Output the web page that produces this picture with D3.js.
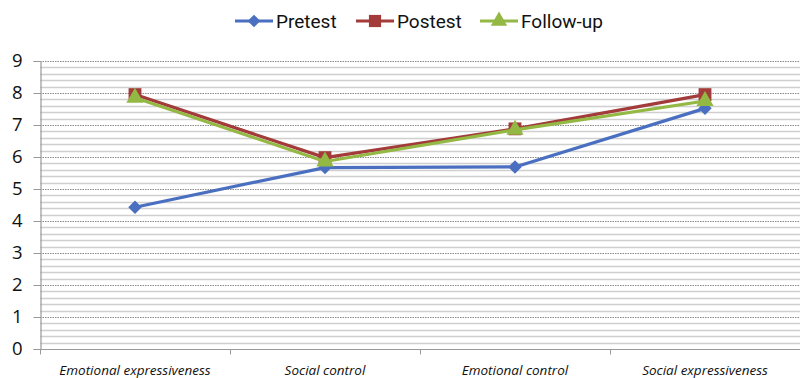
<!DOCTYPE html>
<html>
<head>
<meta charset="utf-8">
<script src="https://cdn.jsdelivr.net/npm/d3@7"></script>
<style>
  html, body { margin: 0; padding: 0; background: #fff; }
  svg { display: block; }
</style>
</head>
<body>
<svg id="chart" width="800" height="378"></svg>
<script>
// Scale scores per subscale at each assessment point
const categories = ["Emotional expressiveness", "Social control", "Emotional control", "Social expressiveness"];
const pretest  = [4.43, 5.67, 5.69, 7.52];
const postest  = [7.95, 5.98, 6.88, 7.95];
const followup = [7.85, 5.86, 6.85, 7.75];
const yTicks   = [0, 1, 2, 3, 4, 5, 6, 7, 8, 9];
const seriesNames = ["Pretest", "Postest", "Follow-up"];

const series = [
  { name: seriesNames[0], values: pretest,  color: "#4A6FC0", symbol: d3.symbolDiamond2, size: 115 },
  { name: seriesNames[1], values: postest,  color: "#A23B3A", symbol: d3.symbolSquare,  size: 165 },
  { name: seriesNames[2], values: followup, color: "#93B844", symbol: d3.symbolTriangle, size: 130 }
];

const svg = d3.select("#chart");
const margin = { left: 40, right: 0, top: 61, bottom: 29 };
const W = 800, H = 378;

const x = d3.scaleBand().domain(categories).range([margin.left, W - margin.right]);
const y = d3.scaleLinear().domain([0, 9]).range([H - margin.bottom, margin.top]);

// Minor gridlines every 0.2
const minor = d3.range(0, 9.0001, 0.2).filter(v => Math.abs(v - Math.round(v)) > 1e-6);
svg.append("g").selectAll("line").data(minor).join("line")
  .attr("x1", margin.left).attr("x2", W - margin.right)
  .attr("y1", d => Math.round(y(d)) + 0.5).attr("y2", d => Math.round(y(d)) + 0.5)
  .attr("stroke", "#cfcfcf").attr("stroke-width", 1.4);

// Major gridlines at integers (dotted)
svg.append("g").selectAll("line").data(yTicks.filter(d => d > 0)).join("line")
  .attr("x1", margin.left).attr("x2", W - margin.right)
  .attr("y1", d => Math.round(y(d)) + 0.5).attr("y2", d => Math.round(y(d)) + 0.5)
  .attr("stroke", "#8a8a8a").attr("stroke-width", 1.2).attr("stroke-dasharray", "1.5,1");

// Y axis
const yAxis = svg.append("g")
  .attr("transform", `translate(${margin.left + 0.5},0)`)
  .call(d3.axisLeft(y).tickValues(yTicks).tickSize(7).tickPadding(11).tickFormat(d3.format("d")));
yAxis.select(".domain").attr("stroke", "#9a9a9a").attr("stroke-width", 1.2);
yAxis.selectAll(".tick line").attr("stroke", "#9a9a9a");
yAxis.selectAll(".tick text")
  .attr("font-family", "'Open Sans', 'DejaVu Sans', sans-serif")
  .attr("font-size", 18.5).attr("fill", "#111");

// X axis with category-boundary ticks
const xAxisG = svg.append("g").attr("transform", `translate(0,${y(0) + 0.5})`);
xAxisG.append("line")
  .attr("x1", margin.left).attr("x2", W - margin.right)
  .attr("stroke", "#9a9a9a").attr("stroke-width", 1.2);
const bounds = categories.slice(1).map(c => x(c));
xAxisG.selectAll("line.tk").data([margin.left].concat(bounds)).join("line")
  .attr("class", "tk")
  .attr("x1", d => d + 0.5).attr("x2", d => d + 0.5)
  .attr("y1", 0).attr("y2", 5)
  .attr("stroke", "#9a9a9a");
xAxisG.selectAll("text").data(categories).join("text")
  .attr("x", d => x(d) + x.bandwidth() / 2)
  .attr("y", 25)
  .attr("text-anchor", "middle")
  .attr("font-family", "'Open Sans', 'DejaVu Sans', sans-serif")
  .attr("font-style", "italic")
  .attr("font-size", 13.5)
  .attr("fill", "#111")
  .text(d => d);

// Series lines and markers
const line = d3.line()
  .x((d, i) => x(categories[i]) + x.bandwidth() / 2)
  .y(d => y(d));

series.forEach(s => {
  const g = svg.append("g");
  g.append("path").datum(s.values)
    .attr("d", line)
    .attr("fill", "none")
    .attr("stroke", s.color)
    .attr("stroke-width", 3.2)
    .attr("stroke-linejoin", "round");
  g.selectAll("path.m").data(s.values).join("path")
    .attr("class", "m")
    .attr("d", d3.symbol().type(s.symbol).size(s.size))
    .attr("transform", (d, i) => `translate(${x(categories[i]) + x.bandwidth() / 2},${y(d)})`)
    .attr("fill", s.color);
});

// Legend
const legendX = [235, 356, 480];
const legend = svg.append("g");
series.forEach((s, i) => {
  const lg = legend.append("g").attr("transform", `translate(${legendX[i]},21)`);
  lg.append("line").attr("x1", 0).attr("x2", 38).attr("y1", 0).attr("y2", 0)
    .attr("stroke", s.color).attr("stroke-width", 3.2);
  lg.append("path")
    .attr("d", d3.symbol().type(s.symbol).size(s.size * 0.9))
    .attr("transform", "translate(19,0)")
    .attr("fill", s.color);
  lg.append("text")
    .attr("x", 41).attr("y", 6.5)
    .attr("font-family", "'Liberation Sans Narrow', 'Roboto', sans-serif")
    .attr("font-size", 19)
    .attr("fill", "#111")
    .text(s.name);
});
</script>
</body>
</html>
